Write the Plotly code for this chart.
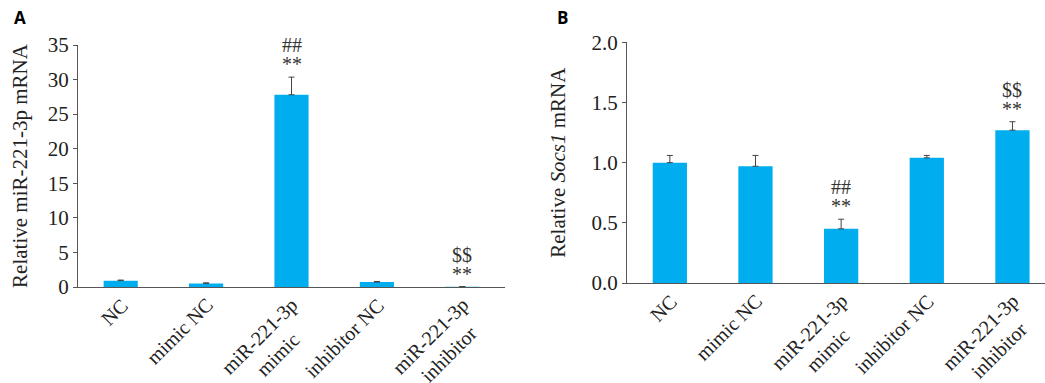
import plotly.graph_objects as go

categories = ["NC", "mimic NC", "miR-221-3p<br>mimic", "inhibitor NC", "miR-221-3p<br>inhibitor"]

mir_values = [0.92, 0.52, 27.8, 0.72, 0.05]
mir_err = [0.08, 0.08, 2.55, 0.08, 0.0]
mir_top = ["", "", "##", "", "$$"]
mir_bot = ["", "", "**", "", "**"]

socs_values = [1.00, 0.97, 0.45, 1.04, 1.27]
socs_err = [0.06, 0.09, 0.08, 0.02, 0.07]
socs_top = ["", "", "##", "", "$$"]
socs_bot = ["", "", "**", "", "**"]

bar_color = "#00AEEF"
axis_color = "#555555"
text_color = "#222222"
serif = "Liberation Serif, Times New Roman, serif"
W, H = 1045, 383


def px(xp):
    return xp / W


def py(yp):
    return 1 - yp / H


fig = go.Figure()
for vals, errs, xa, ya in [(mir_values, mir_err, "x", "y"), (socs_values, socs_err, "x2", "y2")]:
    fig.add_trace(go.Bar(
        x=categories, y=vals, xaxis=xa, yaxis=ya,
        marker=dict(color=bar_color, line=dict(width=0)), width=0.40,
        error_y=dict(type="data", array=errs, arrayminus=[0] * 5, symmetric=False,
                     color="#444444", thickness=1, width=3),
        showlegend=False, hoverinfo="skip",
    ))

annotations = []
for vals, errs, tops, bots, xa, ya in [
    (mir_values, mir_err, mir_top, mir_bot, "x", "y"),
    (socs_values, socs_err, socs_top, socs_bot, "x2", "y2"),
]:
    for i in range(len(vals)):
        if bots[i]:
            annotations.append(dict(x=categories[i], y=vals[i] + errs[i], xref=xa, yref=ya,
                                    text=bots[i], showarrow=False, yanchor="bottom", yshift=0,
                                    font=dict(family=serif, size=20, color="#333333")))
        if tops[i]:
            annotations.append(dict(x=categories[i], y=vals[i] + errs[i], xref=xa, yref=ya,
                                    text=tops[i], showarrow=False, yanchor="bottom", yshift=19,
                                    font=dict(family=serif, size=20, color="#333333")))

# rotated, centre-aligned category labels tied to the category axes
for xa, ydom0 in [("x", py(287)), ("x2", py(283))]:
    for c in categories:
        two = "<br>" in c
        annotations.append(dict(
            x=c, y=ydom0, xref=xa, yref="paper", text=c, showarrow=False,
            textangle=-45, align="center", xanchor="right", yanchor="top",
            xshift=32 if two else 14, yshift=-4,
            font=dict(family=serif, size=20, color=text_color)))

annotations += [
    dict(x=px(12), y=py(4), xref="paper", yref="paper", text="<b>A</b>",
         showarrow=False, xanchor="left", yanchor="top",
         font=dict(family="Open Sans, Arial, sans-serif", size=17, color="black")),
    dict(x=px(555), y=py(4), xref="paper", yref="paper", text="<b>B</b>",
         showarrow=False, xanchor="left", yanchor="top",
         font=dict(family="Open Sans, Arial, sans-serif", size=17, color="black")),
]

xcommon = dict(type="category", showline=True, linecolor=axis_color,
               linewidth=1, ticks="", showticklabels=False, automargin=False,
               showgrid=False, zeroline=False)
ycommon = dict(showline=True, linecolor=axis_color, linewidth=1, ticks="outside",
               ticklen=4, tickcolor=axis_color, showgrid=False, zeroline=False,
               automargin=False,
               tickfont=dict(family=serif, size=21, color=text_color))

fig.update_layout(
    width=W, height=H,
    margin=dict(l=0, r=0, t=0, b=0, autoexpand=False),
    paper_bgcolor="white", plot_bgcolor="white",
    hovermode=False,
    xaxis=dict(domain=[px(78), px(505)], anchor="y", range=[-0.5, 4.5], **xcommon),
    yaxis=dict(domain=[py(287), py(45)], anchor="x", range=[0, 35], dtick=5,
               title=dict(text="Relative miR-221-3p mRNA", standoff=14,
                          font=dict(family=serif, size=21, color=text_color)),
               **ycommon),
    xaxis2=dict(domain=[px(627), 1.0], anchor="y2", range=[-0.5, 4.38], **xcommon),
    yaxis2=dict(domain=[py(283), py(42.3)], anchor="x2", range=[0, 2.0], dtick=0.5,
                tickformat=".1f",
                title=dict(text="Relative <i>Socs1</i> mRNA", standoff=20,
                           font=dict(family=serif, size=21, color=text_color)),
                **ycommon),
    annotations=annotations,
)

fig.write_html("out.html", config={"displayModeBar": False, "staticPlot": True},
               post_script="document.body.style.margin='0';document.body.style.overflow='hidden';")
